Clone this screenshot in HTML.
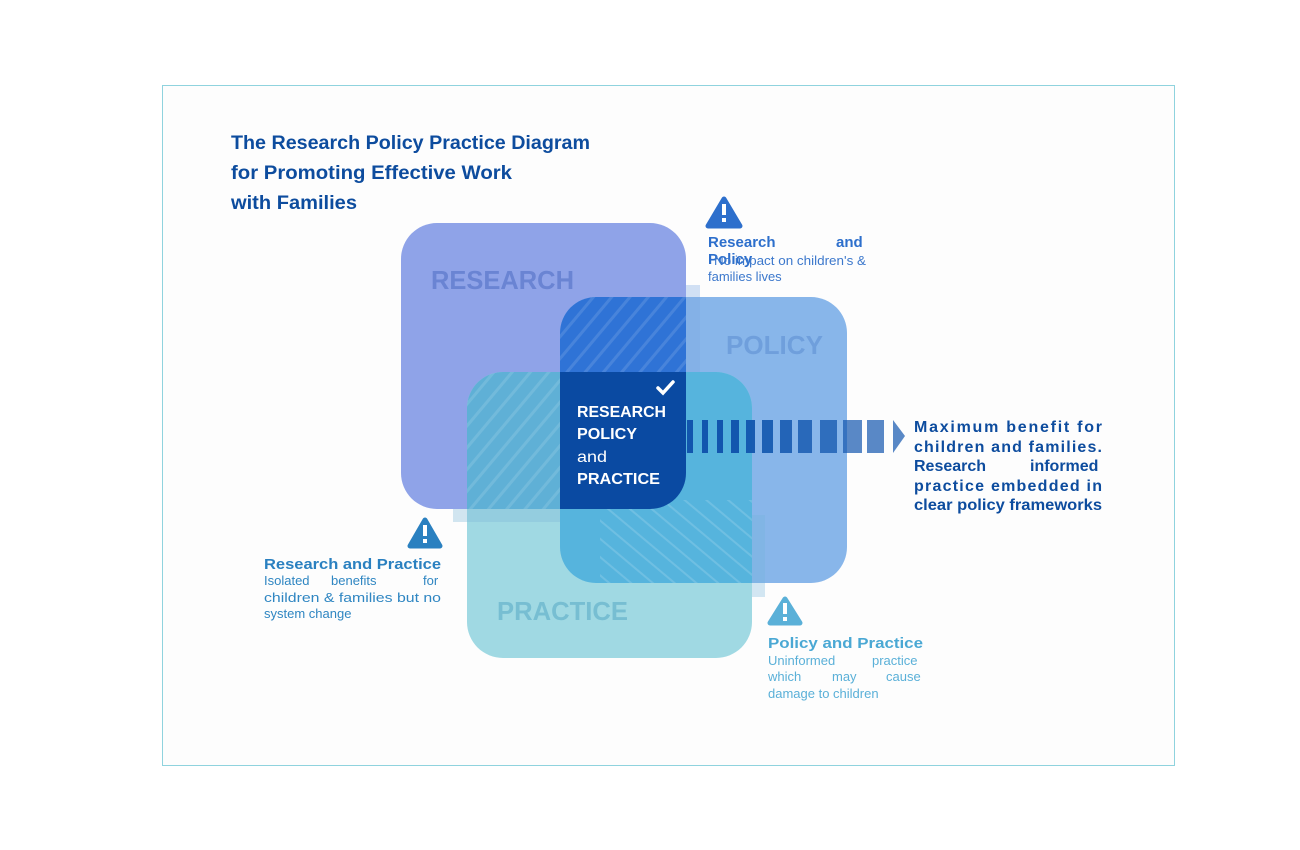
<!DOCTYPE html>
<html><head><meta charset="utf-8"><style>
html,body{margin:0;padding:0;background:#fff;width:1300px;height:850px;overflow:hidden}
svg{display:block}
text{font-family:"Liberation Sans",sans-serif}
</style></head><body>
<svg width="1300" height="850" viewBox="0 0 1300 850" xmlns="http://www.w3.org/2000/svg">
<defs>
<clipPath id="cR"><rect x="401" y="223" width="285" height="286" rx="36"/></clipPath>
<clipPath id="cP"><rect x="560" y="297" width="287" height="286" rx="36"/></clipPath>
<clipPath id="cQ"><rect x="467" y="372" width="285" height="286" rx="36"/></clipPath>
<pattern id="hatch" width="14" height="14" patternUnits="userSpaceOnUse" patternTransform="rotate(40)">
<rect width="3" height="14" fill="#ffffff" opacity="0.12"/></pattern>
<pattern id="hatch2" width="14" height="14" patternUnits="userSpaceOnUse" patternTransform="rotate(-50)">
<rect width="2" height="14" fill="#ffffff" opacity="0.15"/></pattern>
</defs>
<rect x="162.5" y="85.5" width="1012" height="680" fill="#fdfdfd" stroke="#8fd3de" stroke-width="1"/>

<g font-weight="bold" font-size="19" fill="#0d4c9e">
<text x="231" y="149" textLength="359" lengthAdjust="spacingAndGlyphs">The Research Policy Practice Diagram</text>
<text x="231" y="179" textLength="281" lengthAdjust="spacingAndGlyphs">for Promoting Effective Work</text>
<text x="231" y="209" textLength="126" lengthAdjust="spacingAndGlyphs">with Families</text>
</g>

<rect x="401" y="223" width="285" height="286" rx="36" fill="#8fa3e8"/>
<rect x="560" y="297" width="287" height="286" rx="36" fill="#88b6ea"/>
<rect x="467" y="372" width="285" height="286" rx="36" fill="#a0d9e3"/>
<g clip-path="url(#cR)"><g clip-path="url(#cP)"><rect x="560" y="297" width="287" height="286" fill="#2f73d6"/>
<rect x="560" y="297" width="130" height="80" fill="url(#hatch)"/></g></g>
<g clip-path="url(#cR)"><g clip-path="url(#cQ)"><rect x="467" y="372" width="285" height="286" fill="#5fb0d6"/>
<rect x="467" y="372" width="100" height="140" fill="url(#hatch)"/></g></g>
<g clip-path="url(#cP)"><g clip-path="url(#cQ)"><rect x="467" y="372" width="285" height="286" fill="#56b4dd"/>
<rect x="600" y="500" width="155" height="90" fill="url(#hatch2)"/></g></g>
<g clip-path="url(#cR)"><g clip-path="url(#cP)"><g clip-path="url(#cQ)"><rect x="467" y="372" width="285" height="286" fill="#0a4aa2"/></g></g></g>
<rect x="686" y="285" width="14" height="87" fill="#7fa8e2" opacity="0.35"/>
<rect x="453" y="509" width="107" height="13" fill="#7fb6d8" opacity="0.35"/>
<rect x="752" y="515" width="13" height="82" fill="#6fb4dc" opacity="0.3"/>

<text font-weight="bold" font-size="26" fill="#6a84d3" x="431" y="289" textLength="143" lengthAdjust="spacingAndGlyphs">RESEARCH</text>
<text font-weight="bold" font-size="26" fill="#6f9fdc" x="726" y="354" textLength="97" lengthAdjust="spacingAndGlyphs">POLICY</text>
<text font-weight="bold" font-size="26" fill="#77bed2" x="497" y="620" textLength="131" lengthAdjust="spacingAndGlyphs">PRACTICE</text>

<path d="M658 388 l5 5 l10 -11" stroke="#fff" stroke-width="3.5" fill="none" stroke-linecap="round"/>
<g fill="#fff" font-size="16" font-weight="bold">
<text x="577" y="417" textLength="89" lengthAdjust="spacingAndGlyphs">RESEARCH</text>
<text x="577" y="439" textLength="60" lengthAdjust="spacingAndGlyphs">POLICY</text>
<text x="577" y="462" font-weight="normal" textLength="30" lengthAdjust="spacingAndGlyphs">and</text>
<text x="577" y="484" textLength="83" lengthAdjust="spacingAndGlyphs">PRACTICE</text>
</g>

<g fill="#1256ae">
<rect x="687" y="420" width="6" height="33"/>
<rect x="702" y="420" width="6" height="33"/>
<rect x="717" y="420" width="6" height="33"/>
<rect x="731" y="420" width="8" height="33"/>
<rect x="746" y="420" width="9" height="33" opacity="0.95"/>
<rect x="762" y="420" width="11" height="33" opacity="0.9"/>
<rect x="780" y="420" width="12" height="33" opacity="0.85"/>
<rect x="798" y="420" width="14" height="33" opacity="0.8"/>
<rect x="820" y="420" width="17" height="33" opacity="0.75"/>
<rect x="843" y="420" width="19" height="33" opacity="0.7"/>
<rect x="867" y="420" width="17" height="33" opacity="0.7"/>
<path d="M893 420 L905 436 L893 453 Z" opacity="0.7"/>
</g>

<g font-weight="bold" font-size="16" fill="#0d4c9e">
<text x="914" y="432" textLength="188" lengthAdjust="spacing">Maximum benefit for</text>
<text x="914" y="452" textLength="188" lengthAdjust="spacing">children and families.</text>
<text x="914" y="471"><tspan>Research</tspan><tspan x="1030">informed</tspan></text>
<text x="914" y="491" textLength="188" lengthAdjust="spacing">practice embedded in</text>
<text x="914" y="510" textLength="188" lengthAdjust="spacingAndGlyphs">clear policy frameworks</text>
</g>

<path d="M724 199 L740 226 L708 226 Z" fill="#2d6fcc" stroke="#2d6fcc" stroke-width="5" stroke-linejoin="round"/>
<rect x="722" y="204" width="4" height="11" fill="#fff"/><rect x="722" y="218" width="4" height="4" fill="#fff"/>
<text font-weight="bold" font-size="15" fill="#2d6fcc"><tspan x="708" y="247">Research</tspan><tspan x="836" y="247">and</tspan><tspan x="708" y="264">Policy</tspan></text>
<text font-size="13" fill="#3c78cc" x="714" y="265" textLength="152" lengthAdjust="spacingAndGlyphs">No impact on children's &amp;</text>
<text font-size="13" fill="#3c78cc" x="708" y="281">families lives</text>

<path d="M425 520 L440 546 L410 546 Z" fill="#2a80c0" stroke="#2a80c0" stroke-width="5" stroke-linejoin="round"/>
<rect x="423" y="525" width="4" height="11" fill="#fff"/><rect x="423" y="539" width="4" height="4" fill="#fff"/>
<text font-weight="bold" font-size="15" fill="#2a80c0" x="264" y="569" textLength="177" lengthAdjust="spacingAndGlyphs">Research and Practice</text>
<g font-size="13" fill="#2f86c2"><text><tspan x="264" y="585">Isolated</tspan><tspan x="331" y="585">benefits</tspan><tspan x="423" y="585">for</tspan></text>
<text x="264" y="602" textLength="177" lengthAdjust="spacingAndGlyphs">children &amp; families but no</text><text x="264" y="618">system change</text></g>

<path d="M785 599 L800 623 L770 623 Z" fill="#5ab0d8" stroke="#5ab0d8" stroke-width="5" stroke-linejoin="round"/>
<rect x="783" y="603" width="4" height="11" fill="#fff"/><rect x="783" y="617" width="4" height="4" fill="#fff"/>
<text font-weight="bold" font-size="15" fill="#4aa8d4" x="768" y="648" textLength="155" lengthAdjust="spacingAndGlyphs">Policy and Practice</text>
<text font-size="13" fill="#5ab0d8"><tspan x="768" y="665">Uninformed</tspan><tspan x="872" y="665">practice</tspan><tspan x="768" y="681">which</tspan><tspan x="832" y="681">may</tspan><tspan x="886" y="681">cause</tspan><tspan x="768" y="698">damage to children</tspan></text>
</svg>
</body></html>
